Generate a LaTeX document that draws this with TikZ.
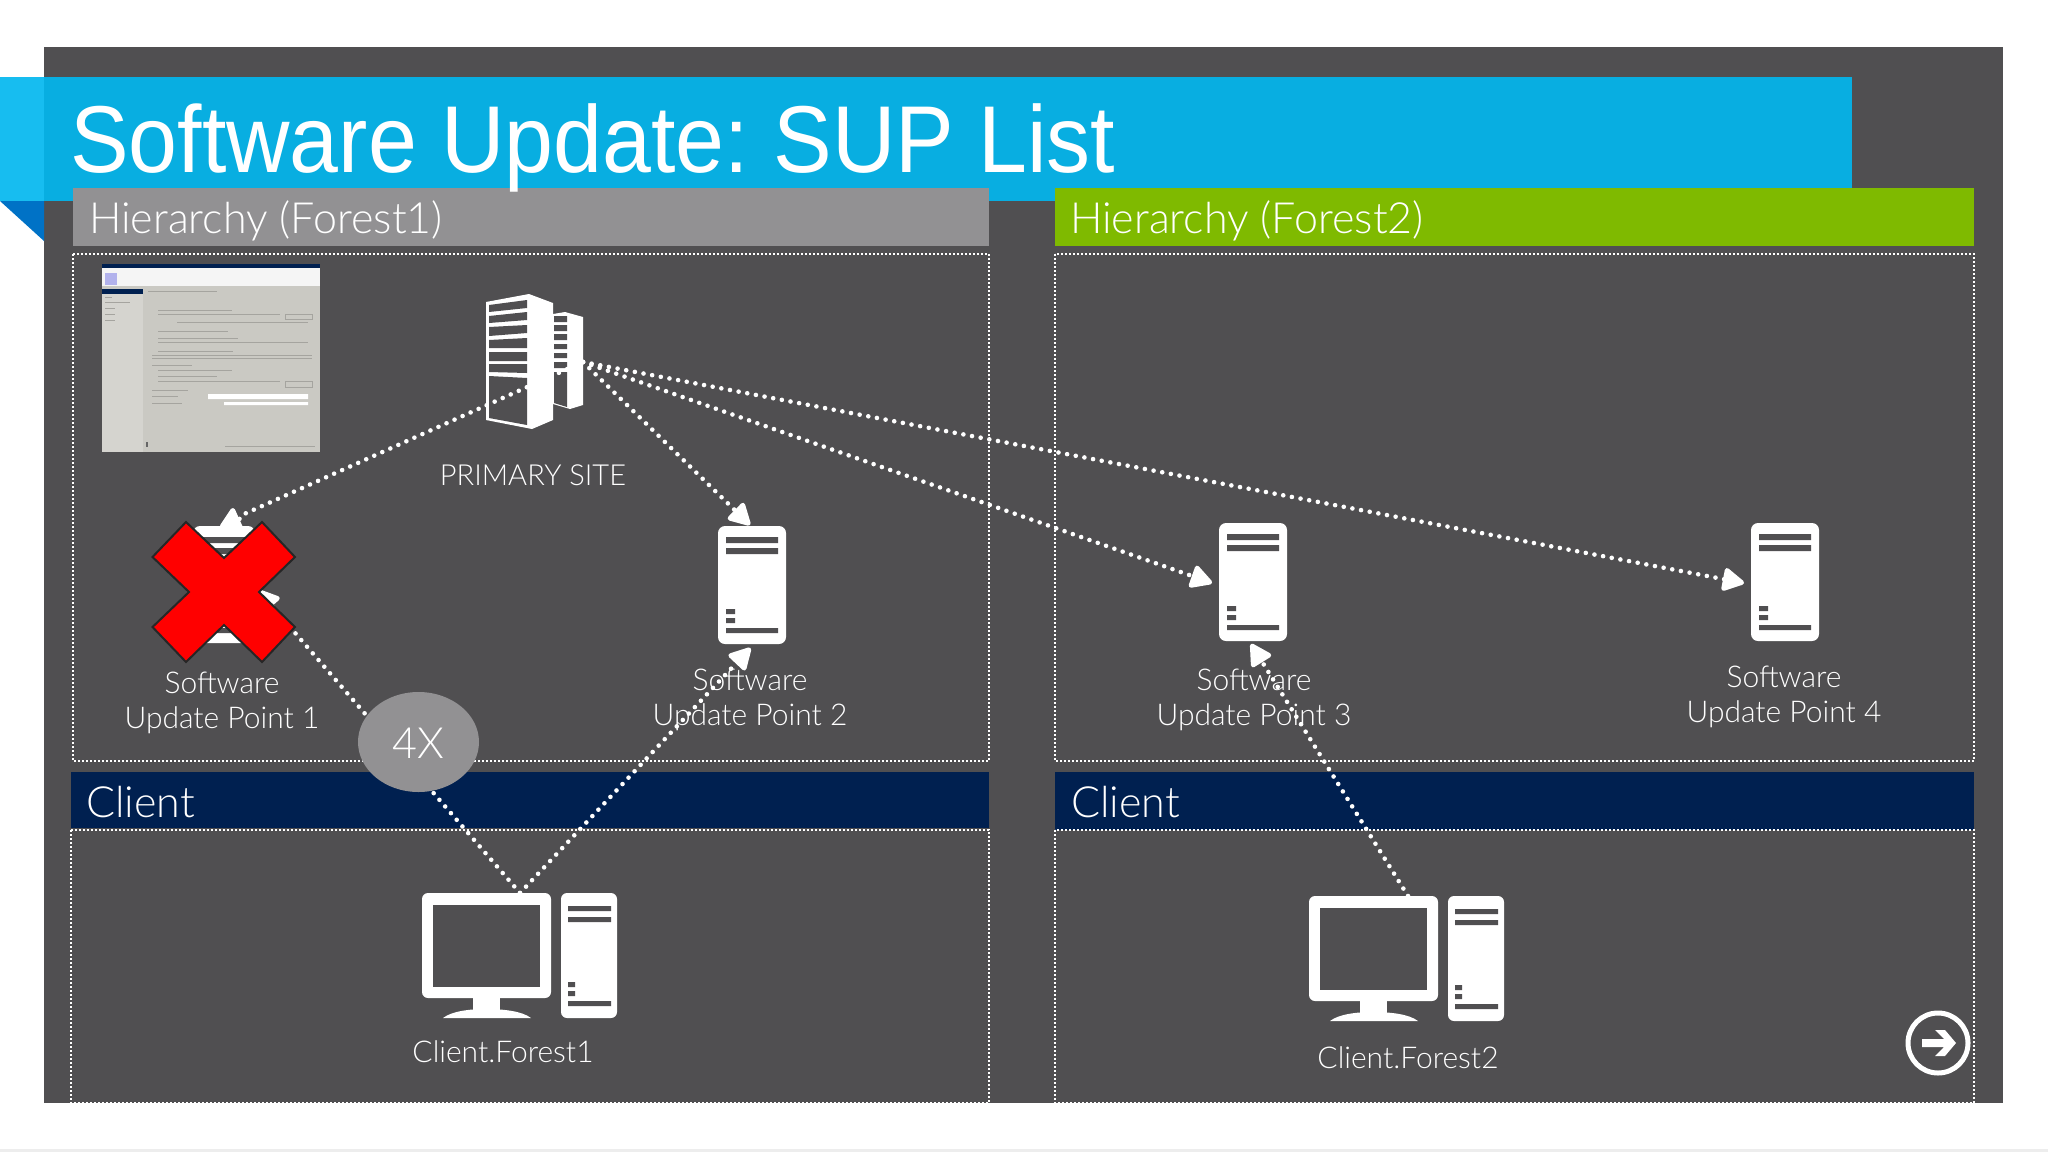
\documentclass[tikz,border=0pt]{standalone}
\usepackage{fontspec}
\setmainfont{Lato Light}
\newfontfamily\titlefont[FakeStretch=0.925]{Liberation Sans}
\usetikzlibrary{arrows.meta,shapes.geometric}
\frenchspacing
\definecolor{slate}{HTML}{504F51}
\definecolor{bannerc}{HTML}{08AEE1}
\definecolor{bannerl}{HTML}{17BDF0}
\definecolor{foldc}{HTML}{0072C6}
\definecolor{grayhead}{HTML}{929193}
\definecolor{greenhead}{HTML}{7FBA00}
\definecolor{navybar}{HTML}{002050}
\definecolor{shotbody}{HTML}{CAC9C3}
\definecolor{shotline}{HTML}{A5A49F}
\tikzset{
  x=1pt,y=-1pt,
  band/.style={draw=none,inner sep=0pt,outer sep=0pt,anchor=north west},
  dotbox/.style={draw=white,line width=2pt,dash pattern=on 2pt off 2pt},
  conn/.style={draw=white,line width=4.6pt,line cap=round,dash pattern=on 0pt off 8.8pt,
    -{Triangle[length=24pt,width=25pt,fill=white,round=false]}},
  headtext/.style={text=white,inner sep=0pt,anchor=base west,font=\fontsize{43}{46}\selectfont},
  lbl/.style={text=white,inner sep=0pt,anchor=base,font=\fontsize{30}{35}\selectfont},
  serverbox/.style={fill=white,rounded corners=7pt,minimum width=68pt,minimum height=118pt,inner sep=0pt,outer sep=0pt},
}
\newcommand{\ServerBars}[2]{% left, top of a 68x118 server
  \begin{scope}[shift={(#1,#2)}]
    \fill[slate] (8,11) rectangle (60,17) (8,22) rectangle (60,28)
      (8,83) rectangle (17,88) (8,92) rectangle (17,97) (8,102) rectangle (60,107);
  \end{scope}}
\newcommand{\ClientIcon}[2]{% offset from first client
  \begin{scope}[shift={(#1,#2)}]
    \fill[white,rounded corners=6pt] (422,893) rectangle (551,998);
    \fill[slate] (433,905) rectangle (540,987);
    \fill[white] (473,995) rectangle (500,1012);
    \fill[white] (443,1018) .. controls (452,1011) and (470,1009) .. (486,1009) .. controls (503,1009) and (522,1011) .. (531,1018) -- cycle;
    \fill[white,rounded corners=6pt] (561,893) rectangle (617,1018);
    \fill[slate] (568,906) rectangle (611,911) (568,917) rectangle (611,922)
      (568,982) rectangle (575,987) (568,991) rectangle (575,996) (568,1001) rectangle (611,1006);
  \end{scope}}
\begin{document}
\begin{tikzpicture}
\useasboundingbox (0,0) rectangle (2048,1152);
\fill[white] (0,0) rectangle (2048,1152);
\fill[black!7] (0,1149) rectangle (2048,1152);
% slide
\node[band,fill=slate,minimum width=1959pt,minimum height=1056pt] (slide) at (44,47) {};
\node[band,fill=bannerc,minimum width=1852pt,minimum height=124pt] (banner) at (0,77) {};
\node[band,fill=bannerl,minimum width=44pt,minimum height=124pt] (bannerleft) at (0,77) {};
\fill[foldc] (0,201) -- (44,201) -- (44,241) -- cycle;
% header bars
\node[band,fill=grayhead,minimum width=916pt,minimum height=58pt] (h1) at (73,188) {};
\node[band,fill=greenhead,minimum width=919pt,minimum height=58pt] (h2) at (1055,188) {};
\node[band,fill=navybar,minimum width=918pt,minimum height=56pt] (c1) at (71,772) {};
\node[band,fill=navybar,minimum width=919pt,minimum height=58pt] (c2) at (1055,772) {};
% dotted frames
\draw[dotbox] (73,254) rectangle (989,761);
\draw[dotbox] (1055,254) rectangle (1974,761);
\draw[dotbox] (71,830) rectangle (989,1103);
\draw[dotbox] (1055,830) rectangle (1974,1103);
% header texts
\node[headtext] (h1t) at (89,233) {Hierarchy (Forest1)};
\node[headtext] (h2t) at (1070,233) {Hierarchy (Forest2)};
\node[headtext] (c1t) at (86,817) {Client};
\node[headtext] (c2t) at (1071,817) {Client};
% screenshot
\fill[shotbody] (102,264) rectangle (320,452);
\fill[navybar] (102,264) rectangle (320,268);
\fill[white!96!black] (102,268) rectangle (320,286);
\fill[black!25!blue!30!white] (105,273) rectangle (117,285);
\fill[navybar] (102,289) rectangle (143,294);
\fill[shotbody!80!white] (102,294) rectangle (143,452);
\foreach \yy/\xa/\xb in {297/105/112,302/105/130,308/105/115,314/105/115,320/105/115,
   291/148/217,310/158/232,314/158/280,322/177/308,331/158/228,338/158/238,342/158/308,
   351/158/233,355/152/312,358/152/312,365/152/192,370/158/232,376/158/217,381/158/280,
   390/152/188,396/152/178,403/152/182,446/225/315}
  \fill[shotline] (\xa,\yy) rectangle (\xb,\yy+1.3) ;
\fill[white] (208,394) rectangle (308,399) (224,402) rectangle (308,405);
\draw[shotline,line width=.8pt] (285,314) rectangle (312,319) (285,381) rectangle (312,387);
\fill[black!60] (146,442) rectangle (148,447);
% primary site tower (small one first)
\fill[white] (553,314) -- (565,312) -- (583,317) -- (583,405) -- (570,409) -- (553,404) -- cycle;
\fill[slate] (554,316) rectangle (567,322) (554,325) rectangle (567,331)
 (554,334) rectangle (567,340) (554,344) rectangle (567,349)
 (554,353) rectangle (567,358) (554,362) rectangle (567,368);
\fill[slate] (554,372) -- (567,372) -- (567,407) -- (554,403) -- cycle;
\fill[white] (486,302) -- (529,294) -- (553,303) -- (553,420) -- (532,429) -- (486,420) -- cycle;
\fill[slate] (489,305) -- (527,300) -- (527,308) -- (489,312) -- cycle
 (489,316) -- (527,312) -- (527,320) -- (489,323) -- cycle
 (489,327) -- (527,325) -- (527,333) -- (489,336) -- cycle
 (489,340) -- (527,338) -- (527,348) -- (489,348) -- cycle
 (489,352) -- (527,352) -- (527,361) -- (489,361) -- cycle
 (489,364) -- (527,364) -- (527,373) -- (489,372) -- cycle
 (489,376) -- (527,378) -- (527,425) -- (489,418) -- cycle;
\coordinate (hub) at (583,362);
\node[lbl,font=\fontsize{29}{35}\selectfont] (primary) at (533,485) {PRIMARY SITE};
% servers
\node[serverbox,minimum width=62pt,minimum height=117pt] (sup1) at (224,584.5) {};
\node[serverbox] (sup2) at (752,585) {};
\ServerBars{718}{526}
\node[serverbox] (sup3) at (1253,582) {};
\ServerBars{1219}{523}
\node[serverbox] (sup4) at (1785,582) {};
\ServerBars{1751}{523}
\fill[slate] (197,537) rectangle (252,543) (197,548) rectangle (252,554) (197,628) rectangle (252,633);
% clients
\ClientIcon{0}{0}
\ClientIcon{887}{3}
\coordinate (cl1top) at (520,893);
\coordinate (cl2top) at (1408,896);
% labels
\node[lbl] (l1) at (222,728) {\parbox[b]{300pt}{\centering Software\\Update Point 1}};
\node[lbl] (l2) at (750,725) {\parbox[b]{300pt}{\centering Software\\Update Point 2}};
\node[lbl] (l3) at (1254,725) {\parbox[b]{300pt}{\centering Software\\Update Point 3}};
\node[lbl] (l4) at (1784,722) {\parbox[b]{300pt}{\centering Software\\Update Point 4}};
\node[lbl] (l5) at (503,1062) {Client.Forest1};
\node[lbl] (l6) at (1408,1068) {Client.Forest2};
% connectors
\coordinate (s1a) at (233,508);
\coordinate (s1b) at (242,515);
\coordinate (s1c) at (231,532);
\coordinate (s1d) at (258,590);
\coordinate (s2a) at (750,525);
\coordinate (s2d) at (750.5,648);
\coordinate (s3a) at (1212,583);
\coordinate (s3d) at (1251,644);
\coordinate (s4a) at (1744,583);
\draw[conn] (hub) -- (s1b) -- (s1c) -- (s1a);
\draw[conn] (hub) -- (s2a);
\draw[conn] (hub) -- (s3a);
\draw[conn] (hub) -- (s4a);
\draw[conn] (cl1top) -- (s1d);
\draw[conn] (cl1top) -- (s2d);
\draw[conn] (cl2top) -- (s3d);
% red cross
\filldraw[fill=red,draw=black!85,line width=2pt,line join=miter]
  (186,522) -- (224,558) -- (262,522) -- (295,557) -- (259,592) -- (295,627)
  -- (262,662) -- (224,625) -- (186,662) -- (152.5,627) -- (189,592) -- (152.5,557) -- cycle;
% 4X
\node[ellipse,fill=grayhead,minimum width=121pt,minimum height=100pt,inner sep=0pt] (four) at (418.5,742) {};
\node[text=white,inner sep=0pt,anchor=base,font=\fontsize{43}{46}\selectfont] (fourt) at (418.5,758) {4X};
% next button
\node[circle,draw=white,line width=5pt,minimum size=60pt,inner sep=0pt] (nextb) at (1938,1043) {};
\fill[white] (1922,1039) -- (1944,1039) -- (1935,1030) -- (1945,1030) -- (1956,1043) -- (1945,1056) -- (1935,1056) -- (1944,1047) -- (1922,1047) -- cycle;
% title
\node[inner sep=0pt,anchor=base west,text=white,font=\titlefont\fontsize{95}{100}\selectfont] (title) at (70,172) {Software Update: SUP List};
\end{tikzpicture}
\end{document}
